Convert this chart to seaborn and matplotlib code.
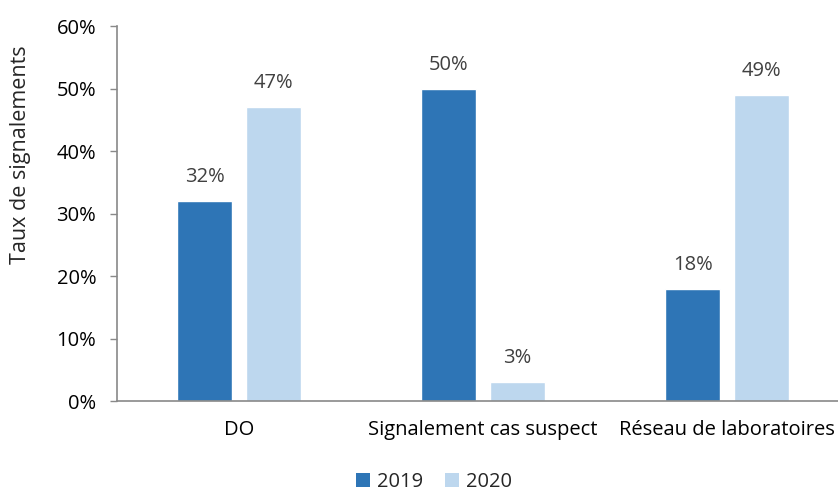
import matplotlib
matplotlib.use("Agg")
import matplotlib.pyplot as plt
import seaborn as sns
import pandas as pd
from matplotlib.patches import Patch

categories = ["DO", "Signalement cas suspect", "Réseau de laboratoires"]
years = ["2019", "2020"]
values_2019 = [32, 50, 18]
values_2020 = [47, 3, 49]
yticks = [0, 10, 20, 30, 40, 50, 60]

colors = {"2019": "#2E75B6", "2020": "#BDD7EE"}

df = pd.DataFrame({
    "cat": categories * 2,
    "year": ["2019"] * 3 + ["2020"] * 3,
    "val": values_2019 + values_2020,
})

sns.set_theme(style="white")
plt.rcParams["font.family"] = ["Open Sans", "DejaVu Sans"]

FS = 14.5

fig = plt.figure(figsize=(8.38, 4.94), dpi=100)
ax = fig.add_axes([117 / 838, 1 - 401 / 494, 732 / 838, 375 / 494])

sns.barplot(data=df, x="cat", y="val", hue="year", order=categories,
            hue_order=years, palette=colors, width=0.561, gap=0.2,
            saturation=1, legend=False, ax=ax)

for cont in ax.containers:
    ax.bar_label(cont, labels=[f"{v:.0f}%" for v in cont.datavalues],
                 padding=10, fontsize=FS, color="#404040")

ax.set_xlim(-0.5, 2.5)
ax.set_ylim(0, 60)
ax.set_yticks(yticks)
ax.set_yticklabels([f"{t}%" for t in yticks], fontsize=FS, color="#000000")
ax.tick_params(axis="y", length=5, width=1, color="#898989", direction="out", pad=10, left=True)
ax.tick_params(axis="x", length=0, labelsize=FS, pad=14, labelcolor="#000000")
ax.set_xlabel("")
ax.set_ylabel("Taux de signalements", fontsize=15.5)
ax.yaxis.set_label_coords(-0.1175, 0.656)

for side in ["top", "right"]:
    ax.spines[side].set_visible(False)
for side in ["left", "bottom"]:
    ax.spines[side].set_color("#898989")
    ax.spines[side].set_linewidth(1.2)

handles = [Patch(facecolor=colors[y], edgecolor="none", label=y) for y in years]
fig.legend(handles=handles, loc="center", bbox_to_anchor=(434 / 838, 1 - 482 / 494),
           ncol=2, frameon=False, fontsize=FS, handlelength=0.7, handleheight=0.7,
           handletextpad=0.35, columnspacing=1.1)

fig.savefig("out.png", dpi=100)
